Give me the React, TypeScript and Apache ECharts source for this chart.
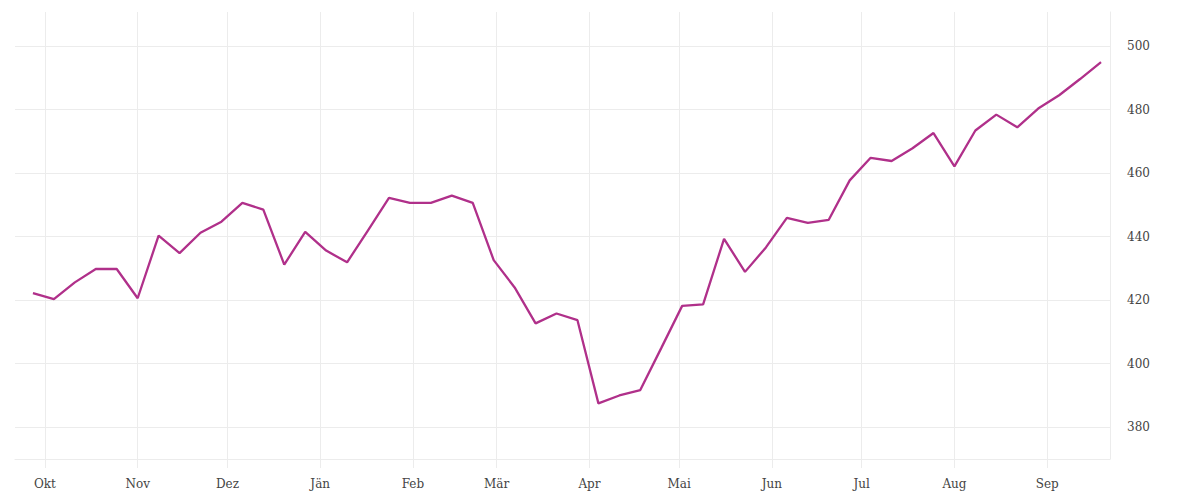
import React from "react";
import * as echarts from "echarts";

// weekly observations, first week starting 27 Sep 2022
const startDate = new Date(2022, 8, 27);
const values = [
  422.2, 420.3, 425.6, 429.8, 429.8, 420.6, 440.3, 434.8, 441.2, 444.7,
  450.6, 448.5, 431.2, 441.5, 435.6, 431.9, 442.0, 452.2, 450.6, 450.6,
  452.9, 450.6, 432.6, 424.0, 412.7, 415.8, 413.7, 387.5, 390.0, 391.7,
  404.9, 418.2, 418.7, 439.3, 428.9, 436.6, 445.9, 444.3, 445.3, 457.7,
  464.8, 463.8, 467.8, 472.6, 462.1, 473.4, 478.4, 474.4, 480.3, 484.5,
  489.6, 494.9,
];
const monthLabels = ["Jän", "Feb", "Mär", "Apr", "Mai", "Jun", "Jul", "Aug", "Sep", "Okt", "Nov", "Dez"];

const axisMin = new Date(2022, 8, 21).getTime();
const axisMax = new Date(2023, 8, 22).getTime();
const DAY = 24 * 3600 * 1000;

const FONT = "DejaVu Serif";
const GRID_COLOR = "#ececec";
const LABEL_COLOR = "#444";

export default function App() {
  const ref = React.useRef<HTMLDivElement>(null);

  React.useEffect(() => {
    const el = ref.current;
    if (!el) return;
    const chart = echarts.init(el, undefined, { renderer: "svg" });

    const seriesData = values.map((v, i) => {
      const d = new Date(startDate);
      d.setDate(d.getDate() + i * 7);
      return [d.getTime(), v];
    });

    chart.setOption({
      animation: false,
      grid: { left: 15, right: 90, top: 12, bottom: 41, containLabel: false },
      xAxis: {
        type: "time",
        min: axisMin,
        max: axisMax,
        minInterval: 28 * DAY,
        maxInterval: 31 * DAY,
        axisLine: { show: true, lineStyle: { color: GRID_COLOR, width: 1 } },
        axisTick: { show: true, length: 9, lineStyle: { color: GRID_COLOR } },
        splitLine: { show: true, showMinLine: false, lineStyle: { color: GRID_COLOR, width: 1 } },
        axisLabel: {
          color: LABEL_COLOR,
          fontFamily: FONT,
          fontSize: 12,
          margin: 19,
          formatter: (value: number) => {
            const d = new Date(value);
            return d.getDate() === 1 ? monthLabels[d.getMonth()] : "";
          },
        },
      },
      yAxis: {
        type: "value",
        position: "right",
        min: 370,
        max: 510.7,
        splitNumber: 7,
        minInterval: 20,
        maxInterval: 20,
        axisLine: { show: true, lineStyle: { color: GRID_COLOR, width: 1 } },
        axisTick: { show: false },
        splitLine: { show: true, showMaxLine: false, lineStyle: { color: GRID_COLOR, width: 1 } },
        axisLabel: {
          color: LABEL_COLOR,
          fontFamily: FONT,
          fontSize: 12,
          margin: 17,
          showMinLabel: false,
          showMaxLabel: false,
        },
      },
      series: [
        {
          type: "line",
          data: seriesData,
          showSymbol: false,
          symbol: "none",
          lineStyle: { color: "#b0308a", width: 2.3 },
        },
      ],
    });

    return () => chart.dispose();
  }, []);

  return (
    <div
      ref={ref}
      style={{ position: "fixed", left: 0, top: 0, width: 1200, height: 500, background: "#fff" }}
    />
  );
}
